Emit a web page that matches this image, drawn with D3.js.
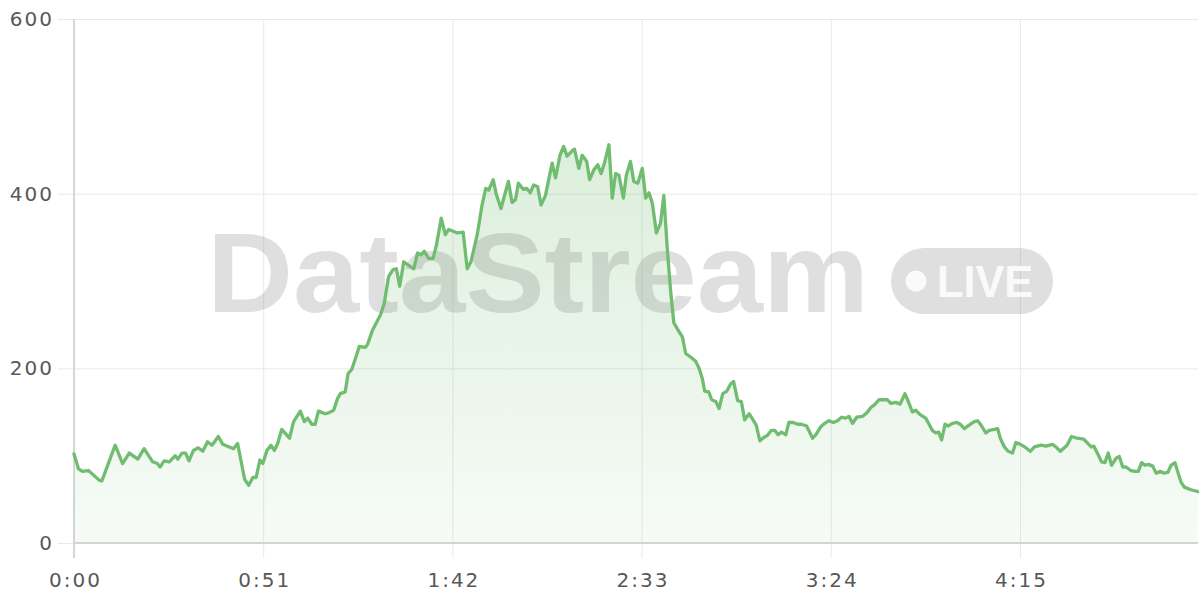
<!DOCTYPE html>
<html>
<head>
<meta charset="utf-8">
<script src="https://cdn.jsdelivr.net/npm/d3@7"></script>
<style>
  html, body { margin: 0; padding: 0; background: #ffffff; }
  svg { display: block; }
</style>
</head>
<body>
<svg id="chart" width="1200" height="600"></svg>
<script>
// elapsed time in seconds
const times = [0,1.2,2.3,3.9,5.2,6.8,7.5,11.1,13.1,14.9,17.2,18.9,21.2,22.5,23.2,24.3,25.7,27.3,28.0,29.1,30.1,31.0,32.2,33.5,34.7,36.0,37.2,38.9,40.1,43.0,44.1,46.0,47.1,48.2,49.1,50.1,50.9,52.0,53.1,54.0,54.9,56.0,58.1,59.2,61.0,62.1,63.0,64.1,65.0,65.9,67.7,68.6,70.0,71.0,71.8,73.1,73.9,74.9,76.0,76.9,78.5,79.1,80.5,82.6,83.6,84.8,86.0,86.9,87.8,88.9,90.2,91.6,92.6,93.6,94.4,95.6,96.8,97.7,99.0,100.1,101.0,102.2,103.4,104.9,106.0,107.0,108.7,110.0,111.0,111.8,113.0,113.8,115.1,116.0,117.1,118.1,119.0,119.8,121.1,122.0,123.0,123.9,125.0,125.9,127.1,128.3,128.9,129.8,131.0,132.0,132.9,134.3,134.9,136.1,137.0,138.2,139.0,140.1,141.2,142.1,143.0,144.2,145.1,146.0,146.9,148.1,148.9,150.0,150.9,152.0,153.2,154.1,155.0,155.9,157.0,158.1,159.0,159.9,160.8,161.7,163.1,164.0,164.9,166.2,167.6,168.5,169.4,170.0,171.1,171.9,173.0,173.9,174.9,176.0,177.0,177.8,178.9,179.9,180.8,182.0,182.9,183.9,184.9,186.0,186.9,188.0,188.9,189.8,190.7,191.9,192.7,193.9,195.0,196.1,197.5,199.1,200.0,201.3,202.4,203.5,204.7,205.8,206.9,208.0,208.9,209.9,211.0,212.6,213.7,215.0,215.7,217.0,218.4,219.3,220.2,221.5,222.7,224.0,225.1,226.0,226.9,228.1,229.6,230.5,231.4,232.3,233.1,233.9,234.8,235.6,236.8,238.0,238.9,240.0,241.3,242.7,243.6,244.5,245.8,246.7,248.1,249.0,249.7,250.8,251.8,253.0,253.9,255.1,256.3,257.8,258.9,260.7,262.0,263.8,264.7,265.9,267.7,268.9,270.4,272.2,273.3,274.2,274.9,276.1,277.0,277.9,278.8,279.7,280.9,281.8,282.7,283.6,284.9,286.0,286.9,287.8,288.7,289.6,290.8,291.7,292.9,293.9,294.9,295.7,296.8,297.5,298.4,299.3,301.1,302.9];
// stream values
const values = [102,85,82,83,78,72,71,112,91,103,96,108,93,91,87,94,93,100,96,103,103,94,106,109,105,116,112,122,113,108,114,73,66,75,75,95,91,106,112,106,114,130,120,139,151,139,143,136,136,151,148,149,152,165,171,173,194,199,213,225,224,227,244,261,274,305,313,314,294,322,318,314,332,330,334,326,326,341,372,353,359,357,355,356,314,322,353,387,406,404,416,400,383,397,414,390,393,412,405,406,401,410,408,387,398,423,435,418,444,454,443,449,451,429,444,437,416,427,433,423,435,456,395,423,421,395,421,437,414,412,429,395,401,389,355,366,398,339,290,252,242,236,217,213,208,200,188,174,173,164,162,154,171,174,182,185,163,162,141,148,142,135,117,121,123,129,129,124,127,124,138,138,136,136,134,120,124,133,137,140,138,140,144,143,145,137,144,145,149,156,158,164,164,164,160,161,159,171,160,150,152,147,143,136,129,126,127,118,136,134,137,138,136,131,135,139,140,135,126,129,130,131,120,110,105,103,115,113,110,105,110,112,111,113,110,105,112,122,120,119,114,110,111,101,93,92,103,89,97,99,87,87,83,82,82,92,89,90,88,80,82,80,81,89,92,82,70,64,61,59];
const xTickValues = [0,51,102,153,204,255];
const yTickValues = [0,200,400,600];
const xDomain = [0,303];
const yDomain = [0,600];

const data = times.map((t,i) => ({t, v: values[i]}));

const svg = d3.select('#chart');
const margin = {left: 74, right: 2, top: 19, bottom: 57};
const W = 1200, H = 600;
const x = d3.scaleLinear().domain(xDomain).range([margin.left, W - margin.right]);
const y = d3.scaleLinear().domain(yDomain).range([H - margin.bottom, margin.top]);

const fmt = s => { const m = Math.floor(s/60), ss = Math.round(s%60); return m + ':' + String(ss).padStart(2,'0'); };

const defs = svg.append('defs');
const grad = defs.append('linearGradient').attr('id','areaGrad')
  .attr('gradientUnits','userSpaceOnUse').attr('x1',0).attr('x2',0)
  .attr('y1', y(600)).attr('y2', y(0));
grad.append('stop').attr('offset','0%').attr('stop-color','#6fbb6f').attr('stop-opacity',0.3);
grad.append('stop').attr('offset','100%').attr('stop-color','#6fbb6f').attr('stop-opacity',0.06);

const labelStyle = sel => sel.attr('fill','#585858')
  .style('font-family','"DejaVu Sans", sans-serif').style('font-size','20px').style('letter-spacing','2px');

// grid + ticks
const gy = svg.append('g').attr('transform', `translate(${margin.left},0)`)
  .call(d3.axisLeft(y).tickValues(yTickValues).tickSize(-(W - margin.right - margin.left)).tickSizeOuter(0).tickPadding(6));
gy.select('.domain').remove();
gy.selectAll('.tick line').attr('stroke','#e9e9e9').attr('stroke-width',1).attr('x1',-16);
gy.selectAll('.tick text').attr('x',-20).call(labelStyle);

const gx = svg.append('g').attr('transform', `translate(0,${y(0)})`)
  .call(d3.axisBottom(x).tickValues(xTickValues).tickFormat(fmt).tickSize(-(y(0) - y(600))).tickSizeOuter(0));
gx.select('.domain').remove();
gx.selectAll('.tick line').attr('stroke','#e9e9e9').attr('stroke-width',1).attr('y1',15);
gx.selectAll('.tick text').attr('y',30).attr('dx','1px').call(labelStyle);

// axis lines
svg.append('line').attr('x1', x(0)).attr('x2', x(0)).attr('y1', y(600)).attr('y2', y(0) + 15)
  .attr('stroke','#d6d6d6').attr('stroke-width',2);
svg.append('line').attr('x1', x(0)).attr('x2', W - margin.right).attr('y1', y(0)).attr('y2', y(0))
  .attr('stroke','#d6d6d6').attr('stroke-width',2);

// area
const area = d3.area().x(d => x(d.t)).y0(y(0)).y1(d => y(d.v));
svg.append('path').datum(data).attr('d', area).attr('fill','url(#areaGrad)');

// watermark
const wm = svg.append('g').attr('class','watermark');
wm.append('text').attr('x',207).attr('y',312).text('DataStream')
  .attr('font-family','"Liberation Sans", Arial, sans-serif').attr('font-weight','bold')
  .attr('font-size',114).attr('textLength',662).attr('lengthAdjust','spacingAndGlyphs')
  .attr('fill','#7a7a7a').attr('fill-opacity',0.24);
wm.append('rect').attr('x',891).attr('y',248).attr('width',162).attr('height',66).attr('rx',33)
  .attr('fill','#7a7a7a').attr('fill-opacity',0.24);
wm.append('circle').attr('cx',916).attr('cy',281).attr('r',10.5).attr('fill','#ffffff').attr('fill-opacity',0.85);
wm.append('text').attr('x',937).attr('y',297).text('LIVE')
  .attr('font-family','"Liberation Sans", Arial, sans-serif').attr('font-weight','bold')
  .attr('font-size',44).attr('textLength',96).attr('lengthAdjust','spacingAndGlyphs')
  .attr('fill','#ffffff').attr('fill-opacity',0.85);

// line
const line = d3.line().x(d => x(d.t)).y(d => y(d.v));
svg.append('path').datum(data).attr('d', line).attr('fill','none')
  .attr('stroke','#70bc70').attr('stroke-width',3.3).attr('stroke-linejoin','round').attr('stroke-linecap','round');
</script>
</body>
</html>
